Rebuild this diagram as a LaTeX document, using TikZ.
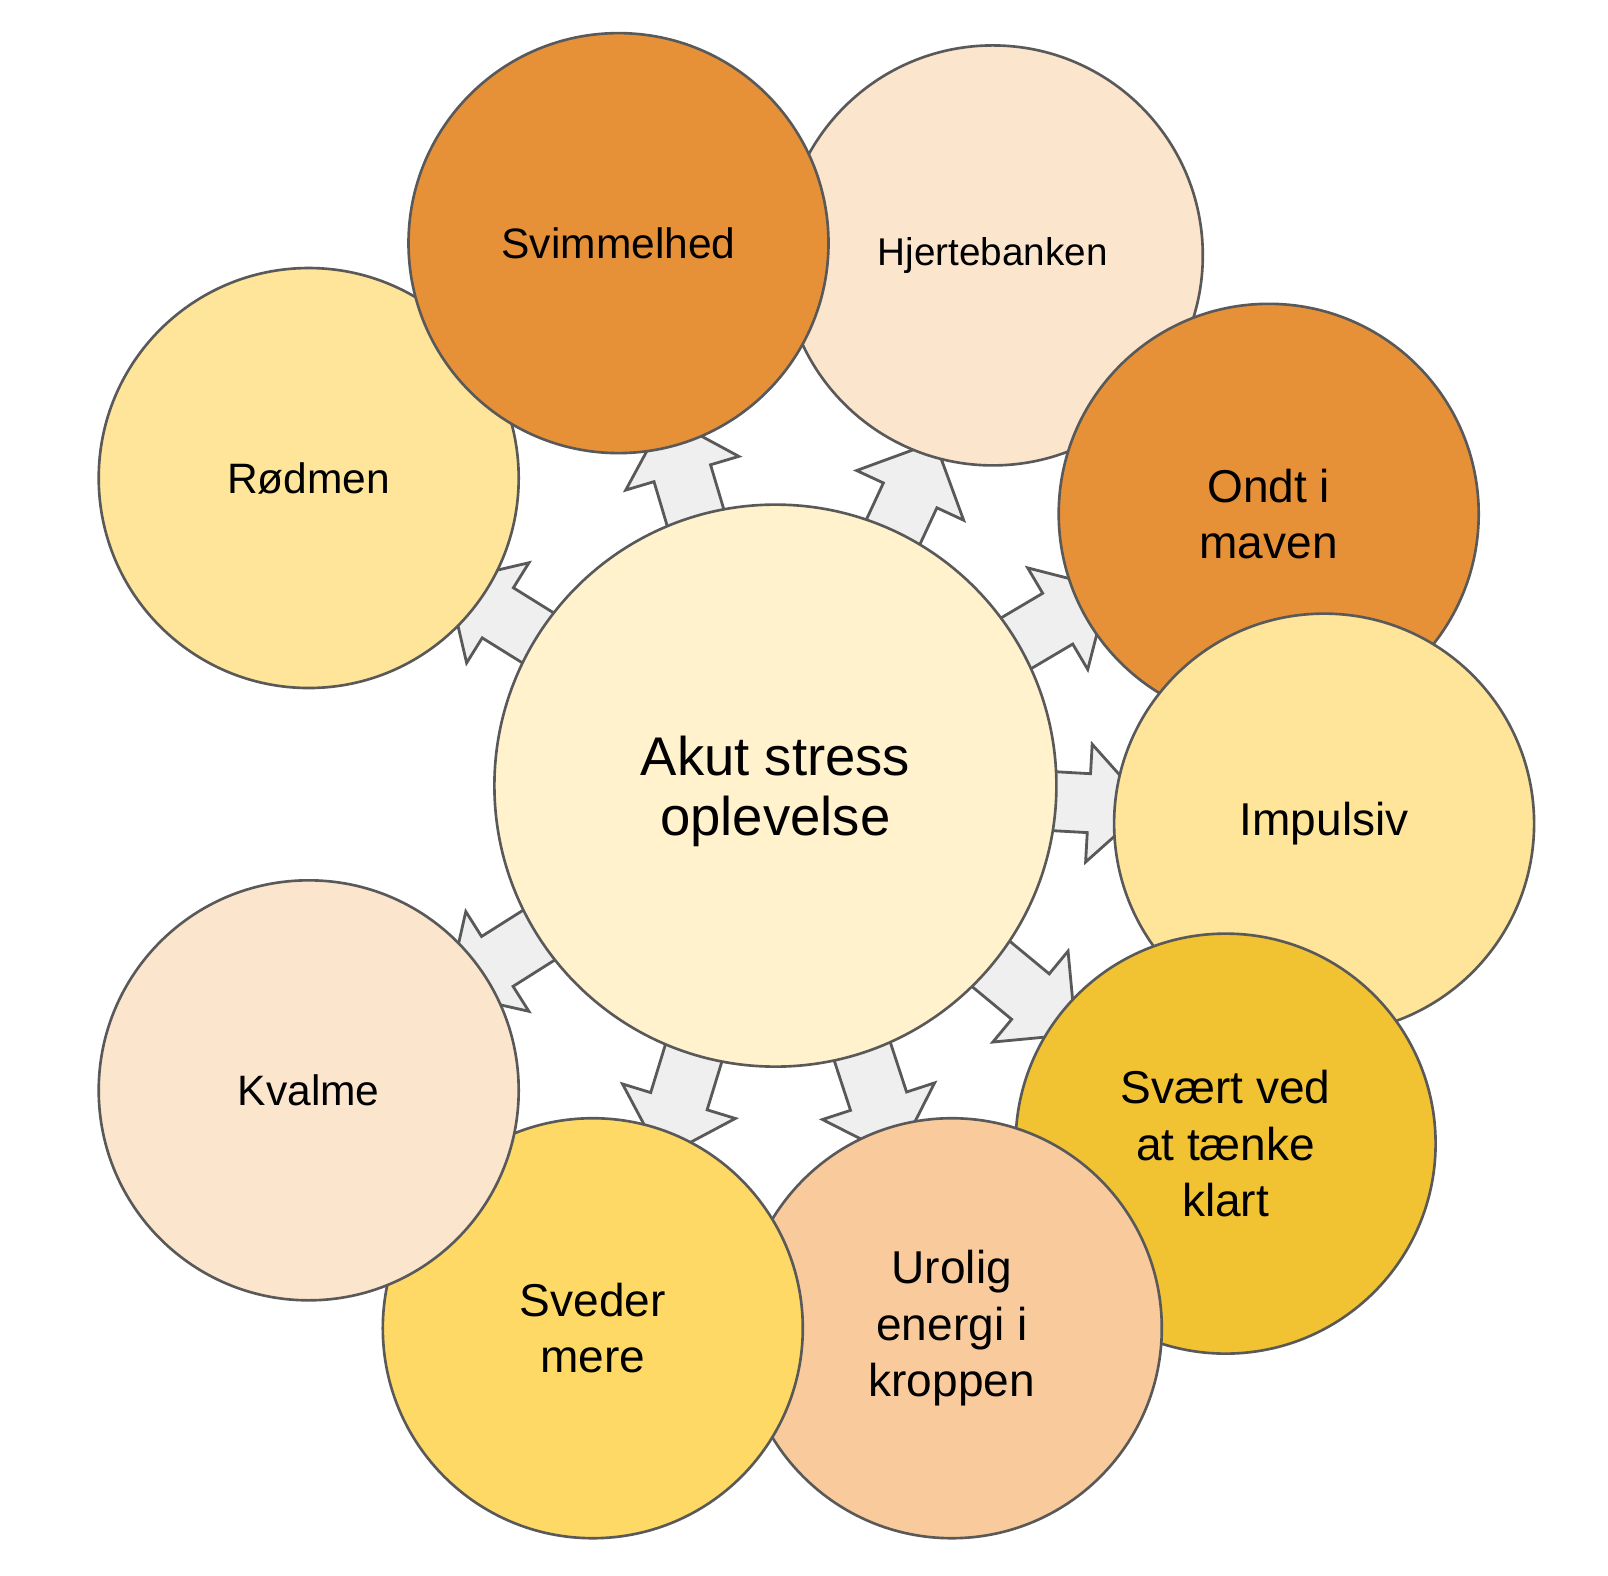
\documentclass[tikz,border=0pt]{standalone}
\usepackage{fontspec}
\setmainfont{Liberation Sans}
\definecolor{lineG}{HTML}{595959}
\definecolor{arrowG}{HTML}{EFEFEF}
\definecolor{orangeD}{HTML}{E69138}
\definecolor{peachL}{HTML}{FCE5CD}
\definecolor{peachM}{HTML}{F9CB9C}
\definecolor{yellowL}{HTML}{FFE599}
\definecolor{yellowM}{HTML}{FFD966}
\definecolor{yellowC}{HTML}{FFF2CC}
\definecolor{goldD}{HTML}{F1C232}

\begin{document}
\begin{tikzpicture}[
	bubble/.style={circle, draw=lineG, line width=0.75pt, minimum size=4.2cm, inner sep=0pt, align=center, font=\fontsize{13.1}{16}\selectfont},
	blockarrow/.style={draw=lineG, fill=arrowG, line width=0.8pt, line join=miter}
]
	\useasboundingbox (0,0) rectangle (16.08,-15.75);
	\coordinate (mid) at (7.754,-7.856);

	\foreach \a/\d in {106.6/3.26, 65.1/3.20, 30.6/3.28, -3.2/3.14, -39.6/3.31, -71.9/3.32, -107/3.30, -147.7/3.29, 148.1/3.27} {
		\begin{scope}[shift={(mid)}, rotate=\a]
			\draw[blockarrow] (2.5,-0.295) -- (\d,-0.295) -- (\d,-0.59) -- ({\d+0.59},0) -- (\d,0.59) -- (\d,0.295) -- (2.5,0.295) -- cycle;
		\end{scope}
	}

	\node[bubble, fill=yellowC, minimum size=5.62cm,
		label={[font=\fontsize{15.5}{17.1}\selectfont, align=center, yshift=-0.054cm]center:Akut stress\\oplevelse}] (akut) at (mid) {};

	\node[bubble, fill=peachL, font=\fontsize{11}{13}\selectfont] (hjerte) at (9.928,-2.554) {Hjertebanken};
	\node[bubble, fill=yellowL, font=\fontsize{12.1}{15}\selectfont] (rodmen) at (3.087,-4.780) {Rødmen};
	\node[bubble, fill=orangeD, font=\fontsize{12.1}{15}\selectfont] (svim) at (6.185,-2.431) {Svimmelhed};
	\node[bubble, fill=orangeD] (ondt) at (12.687,-5.138) {Ondt i\\maven};
	\node[bubble, fill=yellowL] (impuls) at (13.241,-8.236) {Impulsiv};
	\node[bubble, fill=goldD] (svaert) at (12.256,-11.436) {Svært ved\\at tænke\\klart};
	\node[bubble, fill=peachM] (urolig) at (9.518,-13.282) {Urolig\\energi i\\kroppen};
	\node[bubble, fill=yellowM] (sveder) at (5.928,-13.282) {Sveder\\mere};
	\node[bubble, fill=peachL, font=\fontsize{12.1}{15}\selectfont] (kvalme) at (3.087,-10.903) {Kvalme};
\end{tikzpicture}
\end{document}
